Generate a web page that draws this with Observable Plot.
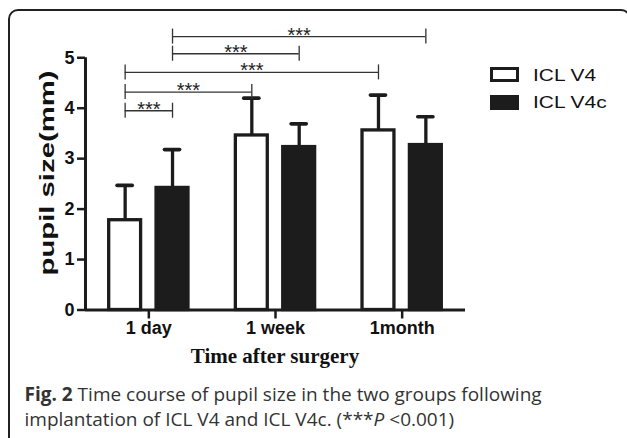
<!DOCTYPE html>
<html><head><meta charset="utf-8">
<script src="https://cdn.jsdelivr.net/npm/d3@7"></script>
<script src="https://cdn.jsdelivr.net/npm/@observablehq/plot@0.6"></script>
<style>
body{margin:0;background:#fff;}
#wrap{position:relative;width:627px;height:438px;overflow:hidden;background:#fff;}
#frame{position:absolute;left:8px;top:9px;width:623px;height:450px;border:2px solid #222;border-radius:10px;box-sizing:border-box;}
#chart{position:absolute;left:0;top:0;}
#ylab{position:absolute;left:47px;top:173px;font:bold 20px "Liberation Sans",Arial,sans-serif;line-height:20px;white-space:nowrap;color:#111;transform-origin:50% 50%;}
#xlab{position:absolute;left:275px;top:346px;transform:translateX(-50%);font:bold 21px "Liberation Serif","Times New Roman",serif;line-height:21px;white-space:nowrap;color:#111;}
.sw{position:absolute;left:490px;width:29px;height:15px;box-sizing:border-box;}
.lt{position:absolute;left:533px;font:17px "Liberation Sans",Arial,sans-serif;line-height:17px;white-space:nowrap;color:#111;transform-origin:0 50%;transform:scaleX(1.23);}
#cap{position:absolute;left:24.5px;top:382px;font:19px "Open Sans",sans-serif;line-height:25px;color:#333;white-space:nowrap;}
</style>
</head><body>
<div id="wrap">
  <div id="frame"></div>
  <div id="chart"></div>
  <span id="ylab">pupil size(mm)</span>
  <span id="xlab">Time after surgery</span>
  <div class="sw" style="top:67px;border:3px solid #1c1c1c;background:#fff;"></div>
  <div class="sw" style="top:95px;background:#1c1c1c;"></div>
  <span class="lt" style="top:67.3px;">ICL V4</span>
  <span class="lt" style="top:94px;">ICL V4c</span>
  <div id="cap"><b>Fig. 2</b> Time course of pupil size in the two groups following<br>implantation of ICL V4 and ICL V4c. (***<i>P</i> &lt;0.001)</div>
</div>
<script>
// ---- data ----
const categories = ["1 day", "1 week", "1month"];
const groups = ["ICL V4", "ICL V4c"];
const meanV4 = [1.78, 3.46, 3.56];
const sdV4 = [0.69, 0.74, 0.70];
const meanV4c = [2.42, 3.23, 3.27];
const sdV4c = [0.76, 0.46, 0.56];
const yTicks = [0, 1, 2, 3, 4, 5];
const yTickLabels = ["0", "1", "2", "3", "4", "5"];
const bracketFromCat = [0, 0, 0, 0, 0];
const bracketFromGroup = ["ICL V4", "ICL V4", "ICL V4", "ICL V4c", "ICL V4c"];
const bracketToCat = [0, 1, 2, 1, 2];
const bracketToGroup = ["ICL V4c", "ICL V4", "ICL V4", "ICL V4c", "ICL V4c"];
const bracketLevel = [3.95, 4.32, 4.71, 5.08, 5.42];
const bracketLabel = ["***", "***", "***", "***", "***"];

// ---- layout (in category units) ----
const OFFSET = {"ICL V4": -0.187, "ICL V4c": 0.187};
const HALF = 0.126, CAP = 0.06;
const INK = "#1c1c1c";

const bars = categories.flatMap((c, i) => groups.map(g => ({
  cat: i, group: g,
  mean: g === "ICL V4" ? meanV4[i] : meanV4c[i],
  sd: g === "ICL V4" ? sdV4[i] : sdV4c[i]
})));
const pos = d => d.cat + OFFSET[d.group];
const brackets = bracketLevel.map((lv, k) => ({
  x1: bracketFromCat[k] + OFFSET[bracketFromGroup[k]],
  x2: bracketToCat[k] + OFFSET[bracketToGroup[k]],
  level: lv, label: bracketLabel[k]
}));
const ends = brackets.flatMap(b => [{x: b.x1, level: b.level}, {x: b.x2, level: b.level}]);

const chart = Plot.plot({
  width: 627, height: 375,
  marginLeft: 85, marginRight: 162, marginTop: 27, marginBottom: 65.5,
  style: {fontFamily: "'Liberation Sans', Arial, sans-serif", fontSize: "18px", fontWeight: "bold", color: "#111", background: "transparent", overflow: "visible"},
  x: {type: "linear", domain: [-0.5, categories.length - 0.5]},
  y: {domain: [0, 5.6], nice: false},
  color: {domain: groups, range: ["#ffffff", INK]},
  marks: [
    Plot.ruleX(bars, {x: pos, y1: "mean", y2: d => d.mean + d.sd, stroke: INK, strokeWidth: 3.3}),
    Plot.ruleY(bars, {y: d => d.mean + d.sd, x1: d => pos(d) - CAP, x2: d => pos(d) + CAP, stroke: INK, strokeWidth: 3.6, strokeLinecap: "round"}),
    Plot.rectY(bars, {x1: d => pos(d) - HALF, x2: d => pos(d) + HALF, y1: 0, y2: "mean", fill: "group", stroke: INK, strokeWidth: 3.3}),
    Plot.ruleY(brackets, {x1: "x1", x2: "x2", y: "level", stroke: "#333", strokeWidth: 1.3}),
    Plot.ruleX(ends, {x: "x", y1: "level", y2: "level", stroke: "#333", strokeWidth: 1.3, insetTop: -7.5, insetBottom: -7.5}),
    Plot.text(brackets, {x: d => (d.x1 + d.x2) / 2, y: "level", text: "label", fontSize: 20, fontWeight: "normal", lineAnchor: "bottom", dy: 5, fill: "#222"}),
    Plot.ruleY([0], {stroke: INK, strokeWidth: 3}),
    Plot.ruleX([-0.5], {y1: 0, y2: d3.max(yTicks), stroke: INK, strokeWidth: 3}),
    Plot.axisY({ticks: yTicks, tickFormat: v => yTickLabels[yTicks.indexOf(v)], tickSize: 8, tickPadding: 3, strokeWidth: 2.5, fontSize: 18, fontWeight: "bold", label: null, stroke: INK}),
    Plot.axisX({ticks: categories.map((c, i) => i), tickFormat: i => categories[i], tickSize: 9, tickPadding: 2, strokeWidth: 2.5, fontSize: 18, fontWeight: "bold", label: null, stroke: INK})
  ]
});
document.getElementById("chart").appendChild(chart);

// stretch the y label along its length to match the reference
const yl = document.getElementById("ylab");
const s = 205 / yl.offsetWidth;
yl.style.transform = `translate(-50%,-50%) rotate(-90deg) scaleX(${s})`;
</script>
</body></html>
